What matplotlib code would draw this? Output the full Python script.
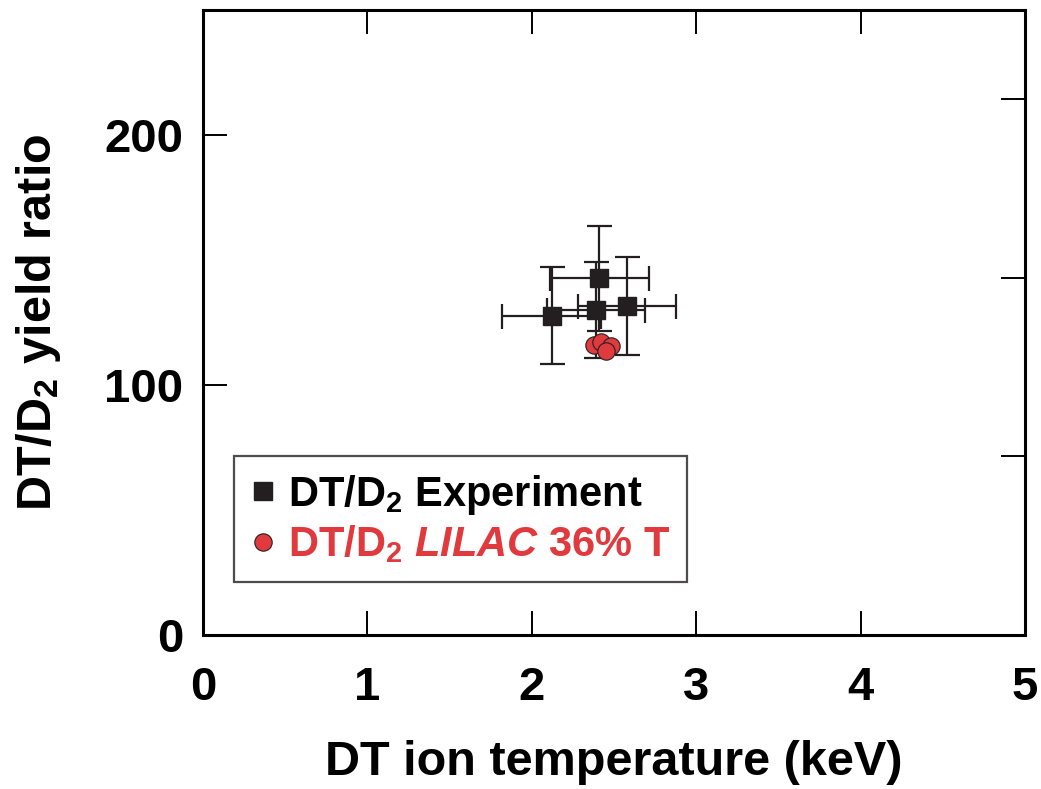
import matplotlib
matplotlib.use("Agg")
import matplotlib.pyplot as plt
from matplotlib.lines import Line2D

plt.rcParams['font.family'] = ['Liberation Sans', 'DejaVu Sans']
plt.rcParams['font.weight'] = 'bold'
plt.rcParams['mathtext.fontset'] = 'custom'
plt.rcParams['mathtext.rm'] = 'Liberation Sans:bold'
plt.rcParams['mathtext.it'] = 'Liberation Sans:italic:bold'
plt.rcParams['mathtext.bf'] = 'Liberation Sans:bold'

# Data
exp_T = [2.12, 2.41, 2.39, 2.58]
exp_ratio = [127.8, 142.8, 129.9, 131.7]
exp_T_err = [0.30, 0.30, 0.30, 0.30]
exp_ratio_err = [19.5, 21.0, 19.2, 19.7]

sim_T = [2.38, 2.42, 2.48, 2.45]
sim_ratio = [116.2, 117.1, 115.5, 113.5]

x_ticks = [0, 1, 2, 3, 4, 5]
y_ticks = [0, 100, 200]

BLACK = '#231F20'
RED = '#E03A3E'

fig = plt.figure(figsize=(10.41, 7.89), dpi=100)
ax = fig.add_axes([0.195, 0.1952, 0.7896, 0.7921])

ax.errorbar(exp_T, exp_ratio, xerr=exp_T_err, yerr=exp_ratio_err, fmt='none',
            ecolor=BLACK, elinewidth=1.6, capsize=9, capthick=1.6, zorder=2)
ax.plot(exp_T, exp_ratio, 's', color=BLACK, ms=13, zorder=3)
ax.plot(sim_T, sim_ratio, 'o', mfc=RED, mec=BLACK, mew=0.8, ms=12.5, zorder=4)

ax.set_xlim(0, 5)
ax.set_ylim(0, 250)
ax.set_xticks(x_ticks)
ax.set_yticks(y_ticks)
ax.tick_params(axis='both', direction='in', length=17, width=1.4, labelsize=34)
ax.tick_params(axis='x', top=True, pad=22)
ax.tick_params(axis='y', pad=14)
for s in ax.spines.values():
    s.set_linewidth(2.2)

ax2 = ax.twinx()
ax2.set_ylim(0, 3.5)
ax2.set_yticks([1, 2, 3])
ax2.set_yticklabels([])
ax2.tick_params(axis='y', direction='in', length=17, width=1.4)
for s in ax2.spines.values():
    s.set_visible(False)

ax.set_xlabel('DT ion temperature (keV)', fontsize=35, fontweight='bold', labelpad=22)
ax.set_ylabel(r'DT/D$_2$ yield ratio', fontsize=35, fontweight='bold', labelpad=30)

handles = [Line2D([], [], marker='s', color=BLACK, ls='none', ms=12.5),
           Line2D([], [], marker='o', mfc=RED, mec=BLACK, mew=0.8, ls='none', ms=12.5)]
labels = [r'DT/D$_2$ Experiment', r'DT/D$_2$ $LILAC$ 36% T']
leg = ax.legend(handles, labels, loc='lower left', bbox_to_anchor=(0.038, 0.085),
                fontsize=30, frameon=True, fancybox=False, edgecolor=BLACK,
                handlelength=0.6, handletextpad=0.3, borderpad=0.4, labelspacing=0.16,
                borderaxespad=0)
leg.get_frame().set_linewidth(1.6)
leg.get_texts()[0].set_color('black')
leg.get_texts()[1].set_color(RED)

fig.savefig('out.png', dpi=100)
